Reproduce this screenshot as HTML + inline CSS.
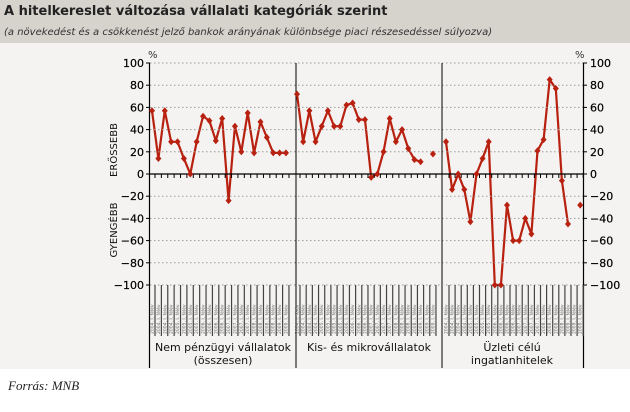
<!DOCTYPE html>
<html><head><meta charset="utf-8"><style>
body{margin:0;background:#fff;width:630px;height:407px;overflow:hidden;font-family:"Liberation Sans","DejaVu Sans",sans-serif}
</style></head><body>
<svg id="s" width="630" height="407" xmlns="http://www.w3.org/2000/svg" font-family="'DejaVu Sans','Liberation Sans',sans-serif">
<rect x="0" y="0" width="630" height="43" fill="#d6d2cc"/>
<rect x="0" y="43" width="630" height="326" fill="#f4f3f1"/>
<text x="4" y="15" font-size="13" font-weight="bold" fill="#222">A hitelkereslet változása vállalati kategóriák szerint</text>
<text x="4" y="35" font-size="10" font-style="italic" fill="#333">(a növekedést és a csökkenést jelző bankok arányának különbsége piaci részesedéssel súlyozva)</text>
<text x="8" y="390" font-size="13" font-style="italic" font-family="'Liberation Serif',serif" fill="#222">Forrás: MNB</text>
<g id="g"></g>
</svg>
<script>
var g=document.getElementById('g'),h='';
function Y(v){return 174-v*1.11;}
for(var v=-100;v<=100;v+=20){var y=Y(v);
 if(v!==0&&v!==-100)h+='<line x1="150" x2="583" y1="'+y+'" y2="'+y+'" stroke="#999" stroke-dasharray="1.5,2.5"/>';
 h+='<line x1="146" x2="150" y1="'+y+'" y2="'+y+'" stroke="#000"/>';
 h+='<line x1="583" x2="587" y1="'+y+'" y2="'+y+'" stroke="#000"/>';
 var t=(v<0?'\u2212'+(-v):''+v);
 h+='<text x="144" y="'+(y+4)+'" font-size="11" text-anchor="end" fill="#000" stroke="#000" stroke-width="0.2">'+t+'</text>';
 h+='<text x="590" y="'+(y+4)+'" font-size="11" fill="#000" stroke="#000" stroke-width="0.2">'+t+'</text>';
}
h+='<text x="148" y="58" font-size="10" fill="#333">%</text><text x="575" y="58" font-size="10" fill="#333">%</text>';
h+='<text transform="translate(117,150) rotate(-90)" font-size="10" text-anchor="middle" fill="#111">ERŐSSEBB</text>';
h+='<text transform="translate(117,230) rotate(-90)" font-size="10" text-anchor="middle" fill="#111">GYENGÉBB</text>';
h+='<line x1="149.5" x2="149.5" y1="63" y2="368" stroke="#000" stroke-width="1.2"/>';
h+='<line x1="583.5" x2="583.5" y1="63" y2="368" stroke="#000" stroke-width="1.2"/>';
h+='<line x1="296" x2="296" y1="63" y2="368" stroke="#000"/><line x1="442" x2="442" y1="63" y2="368" stroke="#000"/>';
h+='<line x1="150" x2="583" y1="174" y2="174" stroke="#000" stroke-width="1.3"/>';
h+='<line x1="150" x2="583" y1="285" y2="285" stroke="#999" stroke-dasharray="1.5,2.5"/>';
var groups=[
 {x0:152,dx:6.38,v:[57,14,57,29,29,14,0,29,52,48,30,50,-24,43,20,55,19,47,33,19,19,19]},
 {x0:297,dx:6.18,v:[72,29,57,29,43,57,43,43,62,64,49,49,-3,0,20,50,29,40,23,13,11,null,18]},
 {x0:446,dx:6.1,v:[29,-14,0,-14,-43,0,14,29,-100,-100,-28,-60,-60,-40,-54,21,31,85,77,-6,-45,null,-28]}];
var col='#b8200f';
groups.forEach(function(G){
 var p='',prev=false;
 G.v.forEach(function(v,i){var x=G.x0+i*G.dx;
  h+='<line x1="'+(x+3)+'" x2="'+(x+3)+'" y1="174" y2="178" stroke="#000"/>';
  h+='<line x1="'+(x+3)+'" x2="'+(x+3)+'" y1="285" y2="336" stroke="#444" stroke-width="1.2"/>';
  h+='<text transform="translate('+(x+1.5)+',334) rotate(-90)" font-size="4.5" fill="#666">200'+(4+Math.floor(i/4))+'. I. félév</text>';
  if(v===null){prev=false;return;}
  p+=(prev?'L':'M')+x+' '+Y(v);prev=true;
  h+='<path d="M'+x+' '+(Y(v)-3.5)+'L'+(x+3)+' '+Y(v)+'L'+x+' '+(Y(v)+3.5)+'L'+(x-3)+' '+Y(v)+'Z" fill="'+col+'"/>';
 });
 h='<path d="'+p+'" fill="none" stroke="'+col+'" stroke-width="2.2" stroke-linejoin="round"/>'+h;
});
h+='<text x="223" y="351" font-size="11" text-anchor="middle" fill="#111">Nem pénzügyi vállalatok</text><text x="223" y="364" font-size="11" text-anchor="middle" fill="#111">(összesen)</text>';
h+='<text x="369" y="351" font-size="11" text-anchor="middle" fill="#111">Kis- és mikrovállalatok</text>';
h+='<text x="512" y="351" font-size="11" text-anchor="middle" fill="#111">Üzleti célú</text><text x="512" y="364" font-size="11" text-anchor="middle" fill="#111">ingatlanhitelek</text>';
g.innerHTML=h;
</script>
</body></html>
